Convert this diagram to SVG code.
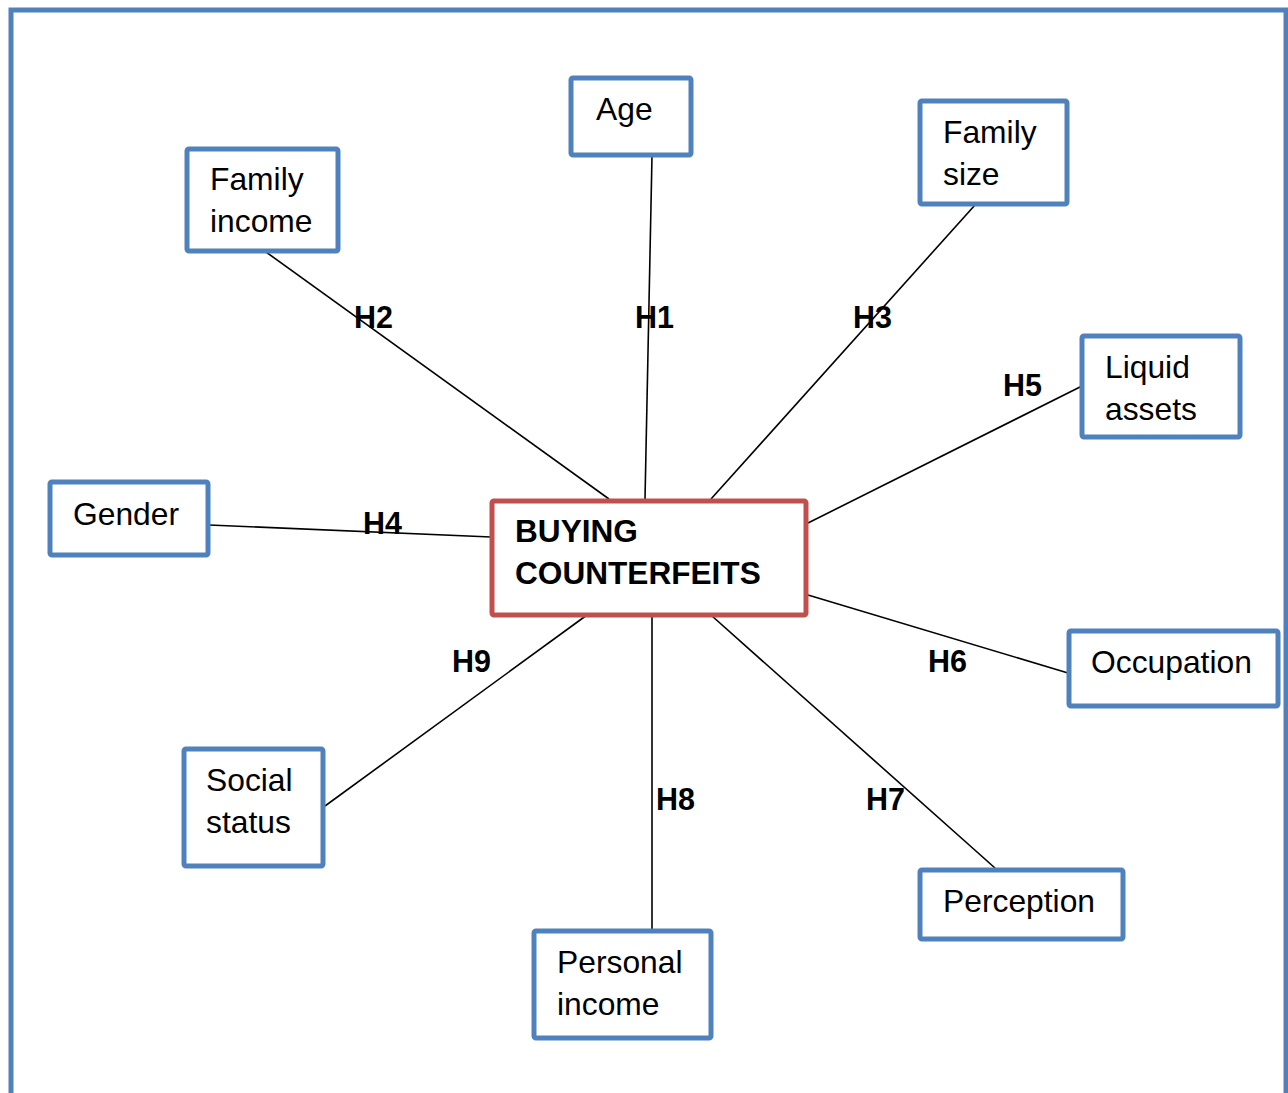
<svg xmlns="http://www.w3.org/2000/svg" width="1288" height="1093" viewBox="0 0 1288 1093">
<style>
.box{fill:#fff;stroke:#4F81BD;stroke-width:5}
.core{fill:#fff;stroke:#C0504D;stroke-width:5}
.t{font-family:"Liberation Sans",Arial,sans-serif;font-size:31.8px;fill:#000}
.b{font-family:"Liberation Sans",Arial,sans-serif;font-size:31.6px;font-weight:bold;fill:#000}
.h{font-family:"Liberation Sans",Arial,sans-serif;font-size:30.5px;font-weight:bold;fill:#000}
.c line{stroke:#000;stroke-width:1.6}
</style>
<rect width="1288" height="1093" fill="#fff"/>
<rect x="11" y="10" width="1275" height="1110" fill="none" stroke="#4F81BD" stroke-width="5"/>
<g class="c" id="connectors">
<line x1="266" y1="252" x2="609" y2="499"/>
<line x1="652" y1="156" x2="645" y2="499"/>
<line x1="975" y1="205" x2="711" y2="499"/>
<line x1="1082" y1="386" x2="808" y2="523"/>
<line x1="209" y1="525" x2="491" y2="537"/>
<line x1="808" y1="595" x2="1068" y2="673"/>
<line x1="587" y1="615" x2="325" y2="806"/>
<line x1="652" y1="616" x2="652" y2="929"/>
<line x1="712" y1="616" x2="995" y2="868"/>
</g>
<g id="labels">
<text class="h" x="354" y="328">H2</text>
<text class="h" x="635" y="328">H1</text>
<text class="h" x="853" y="328">H3</text>
<text class="h" x="1003" y="396">H5</text>
<text class="h" x="363" y="534">H4</text>
<text class="h" x="452" y="672">H9</text>
<text class="h" x="928" y="672">H6</text>
<text class="h" x="656" y="810">H8</text>
<text class="h" x="866" y="810">H7</text>
</g>
<g id="age"><rect class="box" x="571" y="78" width="120" height="77" rx="2"/><text class="t" x="596" y="120">Age</text></g>
<g id="family-income"><rect class="box" x="187" y="149" width="151" height="102" rx="2"/><text class="t" x="210" y="190">Family</text><text class="t" x="210" y="232">income</text></g>
<g id="family-size"><rect class="box" x="920" y="101" width="147" height="103" rx="2"/><text class="t" x="943" y="143">Family</text><text class="t" x="943" y="185">size</text></g>
<g id="liquid-assets"><rect class="box" x="1082" y="336" width="158" height="101" rx="2"/><text class="t" x="1105" y="378">Liquid</text><text class="t" x="1105" y="420">assets</text></g>
<g id="gender"><rect class="box" x="50" y="482" width="158" height="73" rx="2"/><text class="t" x="73" y="525">Gender</text></g>
<g id="buying-counterfeits"><rect class="core" x="492" y="501" width="314" height="114" rx="2"/><text class="b" x="515" y="542">BUYING</text><text class="b" x="515" y="584">COUNTERFEITS</text></g>
<g id="occupation"><rect class="box" x="1069" y="631" width="209" height="75" rx="2"/><text class="t" x="1091" y="673">Occupation</text></g>
<g id="social-status"><rect class="box" x="184" y="749" width="139" height="117" rx="2"/><text class="t" x="206" y="791">Social</text><text class="t" x="206" y="833">status</text></g>
<g id="personal-income"><rect class="box" x="534" y="931" width="177" height="107" rx="2"/><text class="t" x="557" y="973">Personal</text><text class="t" x="557" y="1015">income</text></g>
<g id="perception"><rect class="box" x="920" y="870" width="203" height="69" rx="2"/><text class="t" x="943" y="912">Perception</text></g>
</svg>
